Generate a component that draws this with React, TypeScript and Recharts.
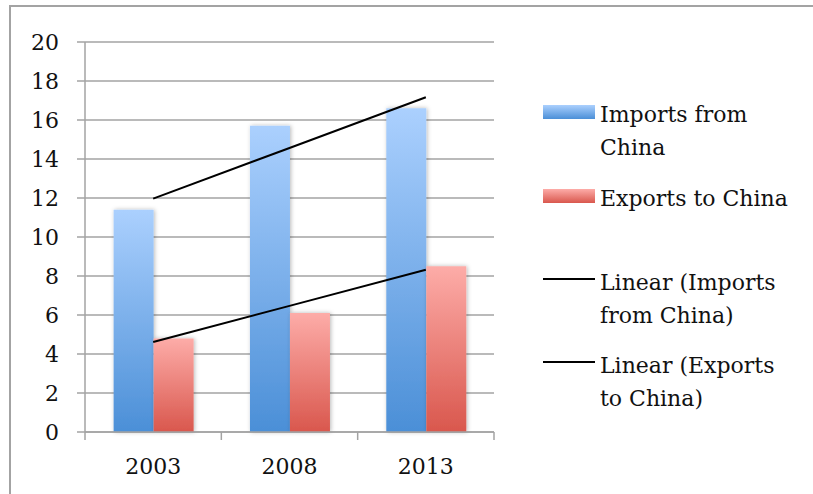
import React from 'react';
import { ComposedChart, Bar, Line, XAxis, YAxis, CartesianGrid, Legend } from 'recharts';

const years = ['2003', '2008', '2013'];
const importsFromChina = [11.4, 15.7, 16.6];
const exportsToChina = [4.8, 6.1, 8.5];
const yTicks = [0, 2, 4, 6, 8, 10, 12, 14, 16, 18, 20];

const FONT = '"DejaVu Serif", serif';
const GRID = '#a3a3a3';
const TEXT = '#111';

// least-squares fit over the category index, like a spreadsheet linear trendline
const linearFit = (values: number[]) => {
  const n = values.length;
  const xs = values.map((_, i) => i + 1);
  const mx = xs.reduce((a, b) => a + b, 0) / n;
  const my = values.reduce((a, b) => a + b, 0) / n;
  let num = 0;
  let den = 0;
  xs.forEach((x, i) => {
    num += (x - mx) * (values[i] - my);
    den += (x - mx) * (x - mx);
  });
  const slope = num / den;
  return xs.map((x) => my + slope * (x - mx));
};

const importsTrend = linearFit(importsFromChina);
const exportsTrend = linearFit(exportsToChina);

const data = years.map((year, i) => ({
  year,
  imports: importsFromChina[i],
  exports: exportsToChina[i],
  importsTrend: importsTrend[i],
  exportsTrend: exportsTrend[i],
}));

const WIDTH = 813;
const HEIGHT = 494;
const MARGIN = { top: 42, right: 319, bottom: 0, left: 15 };
const X_AXIS_HEIGHT = 62;
const Y_AXIS_WIDTH = 70;
const PLOT_WIDTH = WIDTH - MARGIN.left - MARGIN.right - Y_AXIS_WIDTH;
const BAND = PLOT_WIDTH / years.length;

// category label plus the boundary tick marks between categories
const YearTick = (props: any) => {
  const { x, y, payload, index } = props;
  const axisY = y - 8;
  const left = x - BAND / 2;
  const right = x + BAND / 2;
  return (
    <g>
      <line x1={left} y1={axisY} x2={left} y2={y} stroke={GRID} strokeWidth={1.5} />
      {index === years.length - 1 && (
        <line x1={right} y1={axisY} x2={right} y2={y} stroke={GRID} strokeWidth={1.5} />
      )}
      <text x={x} y={y + 34} textAnchor="middle" fontFamily={FONT} fontSize={22} fill={TEXT}>
        {payload.value}
      </text>
    </g>
  );
};

const blueGradient = 'linear-gradient(to bottom, #abd0fe, #4b8fd7)';
const redGradient = 'linear-gradient(to bottom, #fdaca8, #d9574d)';

const legendItems = [
  { top: 99, label: ['Imports from', 'China'], swatch: blueGradient },
  { top: 183, label: ['Exports to China'], swatch: redGradient },
  { top: 267, label: ['Linear (Imports', 'from China)'], swatch: null },
  { top: 350, label: ['Linear (Exports', 'to China)'], swatch: null },
];

// zero-height box so the legend takes no room from the plot area
const renderLegend = () => (
  <div style={{ position: 'relative', width: 270, height: 0, overflow: 'visible', fontFamily: FONT, fontSize: 22, color: TEXT }}>
    {legendItems.map((item) => (
      <div key={item.label.join(' ')} style={{ position: 'absolute', left: 0, top: item.top }}>
        {item.swatch ? (
          <div style={{ position: 'absolute', left: 0, top: 6, width: 52, height: 14, background: item.swatch }} />
        ) : (
          <div style={{ position: 'absolute', left: 0, top: 11, width: 52, height: 2, background: '#000' }} />
        )}
        <div style={{ position: 'absolute', left: 57, top: 0, lineHeight: '32.6px', whiteSpace: 'nowrap' }}>
          {item.label.map((l) => (
            <div key={l}>{l}</div>
          ))}
        </div>
      </div>
    ))}
  </div>
);

export default function App() {
  return (
    <div
      style={{
        position: 'absolute',
        left: 0,
        top: 0,
        width: WIDTH,
        height: HEIGHT,
        overflow: 'hidden',
        background: '#fff',
      }}
    >
      <div
        style={{
          position: 'absolute',
          left: 9,
          top: 5,
          width: 900,
          height: 600,
          borderLeft: `2px solid ${GRID}`,
          borderTop: `2px solid ${GRID}`,
        }}
      />
      <div style={{ position: 'absolute', left: 0, top: 0, width: WIDTH, height: HEIGHT }}>
        <ComposedChart
          width={WIDTH}
          height={HEIGHT}
          data={data}
          margin={MARGIN}
          barCategoryGap="21%"
          barGap={0}
        >
          <defs>
            <linearGradient id="importsFill" x1="0" y1="0" x2="0" y2="1">
              <stop offset="0%" stopColor="#abd0fe" />
              <stop offset="100%" stopColor="#4b8fd7" />
            </linearGradient>
            <linearGradient id="exportsFill" x1="0" y1="0" x2="0" y2="1">
              <stop offset="0%" stopColor="#fdaca8" />
              <stop offset="100%" stopColor="#d9574d" />
            </linearGradient>
            <filter id="barShadow" x="-30%" y="-5%" width="160%" height="110%">
              <feDropShadow dx="1" dy="0" stdDeviation="2" floodColor="#000" floodOpacity="0.28" />
            </filter>
          </defs>
          <CartesianGrid vertical={false} stroke={GRID} strokeWidth={1.5} />
          <XAxis
            dataKey="year"
            axisLine={{ stroke: GRID, strokeWidth: 1.5 }}
            tickLine={false}
            tickSize={8}
            tickMargin={0}
            height={X_AXIS_HEIGHT}
            tick={<YearTick />}
            interval={0}
          />
          <YAxis
            width={Y_AXIS_WIDTH}
            domain={[0, 20]}
            ticks={yTicks}
            interval={0}
            axisLine={{ stroke: GRID, strokeWidth: 1.5 }}
            tickLine={{ stroke: GRID, strokeWidth: 1.5 }}
            tickSize={8}
            tickMargin={18}
            tick={{ fontFamily: FONT, fontSize: 22, fill: TEXT }}
          />
          <Legend
            content={renderLegend}
            wrapperStyle={{ position: 'absolute', left: 543, top: 0, width: 270, height: 0 }}
          />
          <Bar
            dataKey="imports"
            name="Imports from China"
            fill="url(#importsFill)"
            filter="url(#barShadow)"
            isAnimationActive={false}
          />
          <Bar
            dataKey="exports"
            name="Exports to China"
            fill="url(#exportsFill)"
            filter="url(#barShadow)"
            isAnimationActive={false}
          />
          <Line
            dataKey="importsTrend"
            name="Linear (Imports from China)"
            stroke="#000"
            strokeWidth={2}
            dot={false}
            activeDot={false}
            type="linear"
            isAnimationActive={false}
          />
          <Line
            dataKey="exportsTrend"
            name="Linear (Exports to China)"
            stroke="#000"
            strokeWidth={2}
            dot={false}
            activeDot={false}
            type="linear"
            isAnimationActive={false}
          />
        </ComposedChart>
      </div>
    </div>
  );
}
